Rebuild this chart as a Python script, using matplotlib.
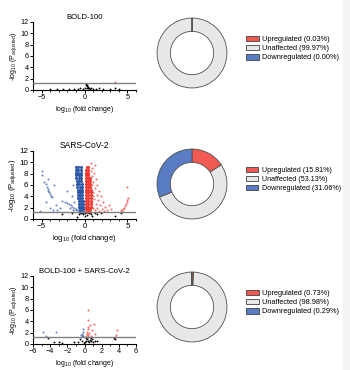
import matplotlib
matplotlib.use("Agg")
import matplotlib.pyplot as plt
from matplotlib.patches import Patch, Rectangle
from matplotlib.ticker import MultipleLocator

plt.rcParams['font.family'] = ['Liberation Sans', 'DejaVu Sans']
plt.rcParams['mathtext.default'] = 'regular'

# ---- data ----
titles = ["BOLD-100", "SARS-CoV-2", "BOLD-100 + SARS-CoV-2"]
slice_labels = ["Upregulated", "Unaffected", "Downregulated"]
pct_bold = [0.03, 99.97, 0.00]
pct_sars = [15.81, 53.13, 31.06]
pct_combo = [0.73, 98.98, 0.29]

# BOLD-100 volcano
bold_black_x = [-4.0, -3.2, -2.5, -1.8, -1.2, -0.8, -0.5, -0.2, 0.0, 0.15, 0.2, 0.25, 0.3, 0.35,
                0.4, 0.5, 0.3, 0.6, 0.8, 1.0, 1.3, 1.7, 2.2, 3.0, 3.6, 4.0]
bold_black_y = [0.1, 0.15, 0.1, 0.2, 0.15, 0.2, 0.3, 0.25, 0.4, 0.9, 1.0, 0.7, 0.8, 0.6,
                0.4, 0.3, 0.3, 0.2, 0.35, 0.25, 0.2, 0.3, 0.15, 0.2, 0.3, 0.25]
bold_red_x = [3.5]
bold_red_y = [1.45]
bold_blue_x = []
bold_blue_y = []

# SARS-CoV-2 volcano: dense cores
sars_blue_core_x = [-0.5, -0.3, -0.15, -0.55, -0.35, -0.17, -0.6, -0.4, -0.2, -0.62, -0.42, -0.2,
                    -0.66, -0.45, -0.22, -0.7, -0.48, -0.25, -0.74, -0.5, -0.25, -0.77, -0.52, -0.27,
                    -0.8, -0.55, -0.3, -0.84, -0.58, -0.3, -0.88, -0.6, -0.32, -0.9, -0.62, -0.35,
                    -0.94, -0.65, -0.36, -0.97, -0.68, -0.38, -1.0, -0.7, -0.4, -1.02, -0.72, -0.42,
                    -0.95, -0.7, -0.45]
sars_blue_core_y = [1.2, 1.2, 1.2, 1.7, 1.7, 1.7, 2.2, 2.2, 2.2, 2.7, 2.7, 2.7,
                    3.2, 3.2, 3.2, 3.7, 3.7, 3.7, 4.2, 4.2, 4.2, 4.7, 4.7, 4.7,
                    5.2, 5.2, 5.2, 5.7, 5.7, 5.7, 6.2, 6.2, 6.2, 6.7, 6.7, 6.7,
                    7.2, 7.2, 7.2, 7.7, 7.7, 7.7, 8.2, 8.2, 8.2, 8.7, 8.7, 8.7,
                    9.2, 9.2, 9.2]
sars_red_core_x = [0.2, 0.42, 0.65, 0.2, 0.42, 0.65, 0.2, 0.42, 0.7, 0.2, 0.42, 0.7,
                   0.2, 0.45, 0.7, 0.2, 0.45, 0.72, 0.2, 0.45, 0.72, 0.2, 0.45, 0.7,
                   0.2, 0.45, 0.7, 0.2, 0.45, 0.68, 0.2, 0.45, 0.65, 0.2, 0.45, 0.62,
                   0.2, 0.42, 0.6, 0.2, 0.42, 0.2, 0.4, 0.2, 0.4, 0.25, 0.45]
sars_red_core_y = [1.2, 1.2, 1.2, 1.7, 1.7, 1.7, 2.2, 2.2, 2.2, 2.7, 2.7, 2.7,
                   3.2, 3.2, 3.2, 3.7, 3.7, 3.7, 4.2, 4.2, 4.2, 4.7, 4.7, 4.7,
                   5.2, 5.2, 5.2, 5.7, 5.7, 5.7, 6.2, 6.2, 6.2, 6.7, 6.7, 6.7,
                   7.2, 7.2, 7.2, 7.7, 7.7, 8.2, 8.2, 8.7, 8.7, 9.2, 9.2]
# SARS-CoV-2 volcano: sparse points
sars_blue_x = [-0.6, -0.8, -1.0, -1.2, -1.4, -1.6, -1.8, -2.0, -2.3, -2.6, -1.0, -1.3, -1.7,
               -1.5, -2.0, -1.3, -2.8, -3.2, -1.2,
               -4.7, -4.5, -4.4, -4.3, -4.2, -4.1, -4.0, -3.9, -3.8,
               -5.0, -4.9, -4.2, -3.6, -4.5, -4.0, -3.7, -3.3, -5.2]
sars_blue_y = [1.4, 1.6, 1.8, 2.0, 2.2, 2.4, 2.6, 2.8, 3.0, 3.2, 1.5, 1.6, 1.9,
               4.0, 5.0, 6.0, 2.0, 1.6, 3.0,
               6.6, 6.1, 5.7, 5.3, 5.0, 4.7, 4.4, 4.1, 3.8,
               8.5, 7.7, 7.0, 6.0, 3.0, 2.0, 1.6, 2.5, 1.4]
sars_red_x = [0.9, 1.1, 0.9, 1.3, 1.0, 1.5, 1.2, 1.7, 1.0, 1.4, 1.9, 1.1, 1.6, 2.1, 0.9, 1.3,
              1.8, 2.4, 1.0, 1.5, 2.0, 2.6, 1.2, 1.7, 2.3, 0.8, 0.85, 0.95, 1.2, 0.7, 2.8, 3.1,
              4.4, 4.5, 4.6, 4.7, 4.8, 4.9, 5.0, 5.1, 5.0, 4.2]
sars_red_y = [9.0, 8.2, 7.5, 7.0, 6.5, 6.0, 5.5, 5.0, 4.8, 4.3, 4.0, 3.6, 3.3, 3.0, 3.0, 2.6,
              2.4, 2.2, 2.0, 1.9, 1.7, 1.6, 1.5, 1.4, 1.35, 8.5, 6.0, 4.0, 9.5, 9.8, 2.5, 1.8,
              1.4, 1.7, 2.0, 2.3, 2.7, 3.0, 3.4, 3.7, 5.7, 1.5]
sars_black_x = [-0.9, -0.6, -0.4, -0.2, 0.0, 0.1, 0.3, 0.5, 0.7, 0.9, 1.2, 1.5, 1.9, -1.5, -2.6, 3.6, 4.3]
sars_black_y = [0.4, 0.9, 1.1, 0.8, 0.5, 1.0, 0.7, 1.1, 0.9, 0.6, 1.0, 0.8, 1.1, 1.0, 0.8, 0.5, 1.1]

# BOLD-100 + SARS-CoV-2 volcano
combo_black_x = [0.1, 0.2, 0.3, 0.4, 0.5, 0.6, 0.8, 1.0, 1.2, 1.5, 0.2, 0.7, -0.1, -0.3, -0.5,
                 -0.7, -1.2, -2.6, -3.5, -4.2, 3.4, 3.6, -3.0, 0.35, 0.9]
combo_black_y = [0.3, 0.6, 0.9, 0.5, 0.3, 0.7, 0.5, 0.4, 0.6, 0.5, 1.1, 1.0, 0.2, 0.5, 0.8,
                 0.4, 0.3, 0.2, 0.4, 1.1, 1.0, 0.8, 0.3, 1.2, 0.8]
combo_blue_x = [-0.3, -0.25, -0.2, -0.15, -0.35, -0.2, -4.8, -3.3, -4.5]
combo_blue_y = [1.4, 1.8, 2.2, 2.6, 1.6, 1.5, 2.2, 2.1, 1.5]
combo_red_x = [0.2, 0.25, 0.3, 0.35, 0.45, 0.55, 0.7, 0.4, 0.6, 1.1, 0.45, 0.4, 0.9, 1.2, 3.8, 3.7, 3.6]
combo_red_y = [1.4, 1.8, 2.2, 2.6, 1.6, 2.0, 1.5, 3.0, 3.4, 3.6, 4.3, 6.0, 2.5, 1.8, 2.5, 1.6, 1.3]

threshold = 1.3  # -log10(0.05)

RED = '#f0372d'
BLUE = '#2d58a8'
PIE_COLORS = ['#f15a52', '#e8e8e8', '#5a7cc4']

fig = plt.figure(figsize=(3.5, 3.7), dpi=100)
fig.patches.append(Rectangle((343 / 350, 0), 1 - 343 / 350, 1, transform=fig.transFigure,
                             color='#f4f4f4', zorder=-10))

panels = [
    dict(title=titles[0], pct=pct_bold, fs=1.0, lfs=5.3,
         black=(bold_black_x, bold_black_y), red=(bold_red_x, bold_red_y), blue=(bold_blue_x, bold_blue_y),
         cores=None, xticks=[-5, 0, 5], vbot=1 - 90 / 370, cy=53),
    dict(title=titles[1], pct=pct_sars, fs=1.1, lfs=5.15,
         black=(sars_black_x, sars_black_y), red=(sars_red_x, sars_red_y), blue=(sars_blue_x, sars_blue_y),
         cores=((sars_blue_core_x, sars_blue_core_y), (sars_red_core_x, sars_red_core_y)),
         xticks=[-5, 0, 5], vbot=1 - 219 / 370, cy=184),
    dict(title=titles[2], pct=pct_combo, fs=1.0, lfs=5.3,
         black=(combo_black_x, combo_black_y), red=(combo_red_x, combo_red_y), blue=(combo_blue_x, combo_blue_y),
         cores=None, xticks=[-6, -4, -2, 0, 2, 4, 6], vbot=1 - 344 / 370, cy=307),
]

for p in panels:
    f = p['fs']
    ax = fig.add_axes([33 / 350, p['vbot'], 103 / 350, 68 / 370])
    if p['cores'] is not None:
        (bx, by), (rx, ry) = p['cores']
        ax.scatter(bx, by, s=5, color=BLUE, linewidths=0, zorder=2)
        ax.scatter(rx, ry, s=5, color=RED, linewidths=0, zorder=2)
    ax.scatter(*p['blue'], s=2.2, color=BLUE, alpha=0.7, linewidths=0, zorder=2)
    ax.scatter(*p['red'], s=2.2, color=RED, alpha=0.7, linewidths=0, zorder=2)
    ax.scatter(*p['black'], s=1.8, color='black', linewidths=0, zorder=3)
    ax.axhline(threshold, color='#808080', lw=1.0, zorder=4)
    ax.set_xlim(-6, 6)
    ax.set_ylim(0, 12)
    ax.set_xticks(p['xticks'])
    ax.xaxis.set_minor_locator(MultipleLocator(1))
    ax.set_yticks(range(0, 13, 2))
    ax.spines['top'].set_visible(False)
    ax.spines['right'].set_visible(False)
    for s in ('left', 'bottom'):
        ax.spines[s].set_linewidth(0.8)
    ax.tick_params(which='major', length=2.2, width=0.7, labelsize=5.2 * f, pad=1)
    ax.tick_params(which='minor', length=1.3, width=0.6)
    ax.set_title(p['title'], fontsize=5.6 * f, pad=2)
    ax.set_xlabel('log$_{10}$ (fold change)', fontsize=5.0 * f, labelpad=1.5)
    ax.set_ylabel('-log$_{10}$ (P$_{adjusted}$)', fontsize=5.0 * f, labelpad=1)

    # donut
    pax = fig.add_axes([(192 - 36) / 350, 1 - (p['cy'] + 36) / 370, 72 / 350, 72 / 370])
    pax.pie(p['pct'], colors=PIE_COLORS, startangle=90, counterclock=False, radius=1,
            wedgeprops=dict(width=0.38, edgecolor='#505050', linewidth=0.6))
    pax.set_xlim(-1.03, 1.03)
    pax.set_ylim(-1.03, 1.03)
    pax.set_aspect('equal')
    handles = [Patch(facecolor=c, edgecolor='#404040', linewidth=0.6) for c in PIE_COLORS]
    labels = [f"{l} ({v:.2f}%)" for l, v in zip(slice_labels, p['pct'])]
    pax.legend(handles, labels, loc='center left', frameon=False,
               bbox_to_anchor=(246 / 350, 1 - (p['cy'] - 4.5) / 370), bbox_transform=fig.transFigure,
               fontsize=p['lfs'], handlelength=1.7, handleheight=0.8, handletextpad=0.5,
               labelspacing=0.25, borderaxespad=0, borderpad=0)

fig.savefig('out.png', dpi=100)
